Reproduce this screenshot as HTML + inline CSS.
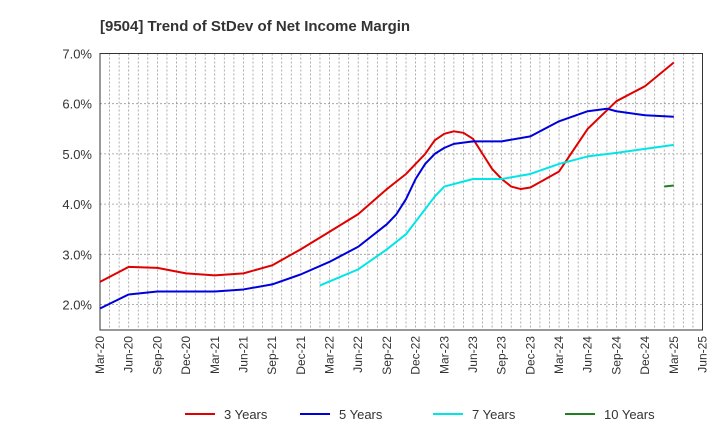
<!DOCTYPE html>
<html><head><meta charset="utf-8"><style>
body{margin:0;background:#fff;font-family:"Liberation Sans",sans-serif}
</style></head><body>
<svg width="720" height="440" xmlns="http://www.w3.org/2000/svg" id="chart" font-family="Liberation Sans, sans-serif">
<text x="100" y="31" font-size="15" font-weight="bold" fill="#333">[9504]  Trend of StDev of Net Income Margin</text>
<g id="grid"></g>
<g id="axes"></g>
<g id="series"></g>
<g id="legend"></g>
</svg>
<script>
const xLabels=["Mar-20","Jun-20","Sep-20","Dec-20","Mar-21","Jun-21","Sep-21","Dec-21","Mar-22","Jun-22","Sep-22","Dec-22","Mar-23","Jun-23","Sep-23","Dec-23","Mar-24","Jun-24","Sep-24","Dec-24","Mar-25","Jun-25"];
const yTicks=[2,3,4,5,6,7];
const months3=[0,3,6,9,12,15,18,21,24,27,30,31,32,33,34,35,36,37,38,39,40,41,42,43,44,45,48,51,54,57,60];
const vals3=[2.45,2.75,2.73,2.62,2.58,2.62,2.78,3.1,3.45,3.8,4.3,4.45,4.6,4.8,5.0,5.27,5.4,5.45,5.42,5.3,5.0,4.7,4.5,4.35,4.3,4.33,4.65,5.5,6.05,6.35,6.82];
const months5=[0,3,6,9,12,15,18,21,24,27,30,31,32,33,34,35,36,37,39,42,45,48,51,53,54,57,60];
const vals5=[1.92,2.2,2.26,2.26,2.26,2.3,2.4,2.6,2.85,3.15,3.6,3.8,4.1,4.5,4.8,5.0,5.12,5.2,5.25,5.25,5.35,5.65,5.85,5.9,5.85,5.77,5.74];
const months7=[23,27,30,32,33,35,36,39,42,45,48,51,54,57,60];
const vals7=[2.38,2.7,3.1,3.4,3.65,4.15,4.35,4.5,4.5,4.6,4.8,4.95,5.02,5.1,5.18];
const months10=[59,60];
const vals10=[4.35,4.37];
const NS="http://www.w3.org/2000/svg";
const L=100,R=702.5,T=53.5,B=330;
const x=m=>L+m*(R-L)/63;
const y=v=>T+(7-v)*50.2;
function mk(tag,attrs,parent){const e=document.createElementNS(NS,tag);for(const k in attrs)e.setAttribute(k,attrs[k]);parent.appendChild(e);return e;}
const grid=document.getElementById('grid'),axes=document.getElementById('axes'),ser=document.getElementById('series'),leg=document.getElementById('legend');
for(let m=1;m<63;m++){const g=mk('line',{x1:x(m),x2:x(m),y1:T,y2:B,stroke:'#999','stroke-width':0.8,'stroke-dasharray':'2,2'},grid);

}
yTicks.forEach(v=>{const g=mk('line',{x1:L,x2:R,y1:y(v),y2:y(v),stroke:'#999','stroke-width':0.8,'stroke-dasharray':'2,2'},grid);


const t=mk('text',{x:L-8,y:y(v)+5,'text-anchor':'end','font-size':13,fill:'#333'},axes);t.textContent=v.toFixed(1)+'%';

});
const fr=mk('rect',{x:L,y:T,width:R-L,height:B-T,fill:'none',stroke:'#333','stroke-width':1},axes);


xLabels.forEach((s,i)=>{const xx=x(i*3);const t=mk('text',{x:xx+4,y:B+6,'text-anchor':'end','font-size':12,fill:'#333',transform:`rotate(-90 ${xx+4} ${B+6})`},axes);t.textContent=s;

});
function line(ms,vs,color,name){const p=mk('polyline',{points:ms.map((m,i)=>x(m)+','+y(vs[i])).join(' '),fill:'none',stroke:color,'stroke-width':2,'stroke-linejoin':'round'},ser);

}
line(months3,vals3,'#e00000','line-3-years');
line(months5,vals5,'#0000dd','line-5-years');
line(months7,vals7,'#00e5e5','line-7-years');
line(months10,vals10,'#208020','line-10-years');
[['3 Years','#e00000',185],['5 Years','#0000dd',300],['7 Years','#00e5e5',433],['10 Years','#208020',565]].forEach(([s,c,lx])=>{
const g=mk('g',{},leg);


mk('line',{x1:lx,x2:lx+30,y1:414,y2:414,stroke:c,'stroke-width':2},g);
const t=mk('text',{x:lx+39,y:419,'font-size':13,fill:'#333'},g);t.textContent=s;});
</script>
</body></html>
